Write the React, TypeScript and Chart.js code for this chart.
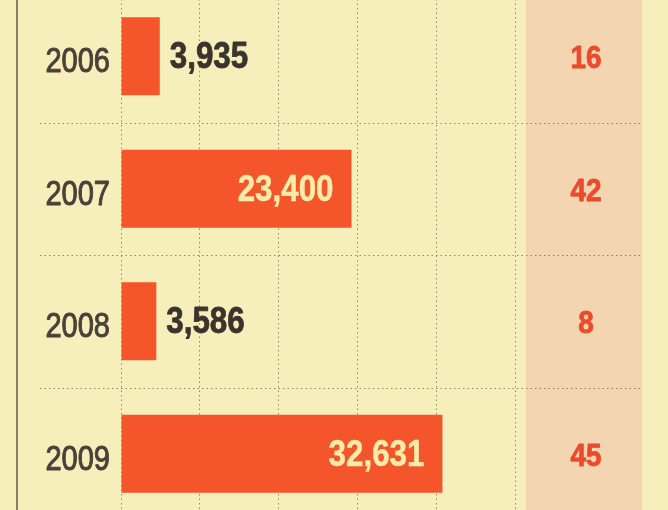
import React, { useEffect, useRef } from "react";
import { Chart, registerables } from "chart.js";

Chart.register(...registerables);

// ---- data ----
const years = ["2006", "2007", "2008", "2009"];
const amounts = [3935, 23400, 3586, 32631];
const counts = [16, 42, 8, 45];
const xMax = 40000;
const xStep = 8000;

// ---- styles ----
const BG = "#f6efbb";
const BAND = "#f3d5b2";
const BAR = "#f4552b";
const YEAR_COLOR = "#4a4139";
const DARK_LABEL = "#3a332e";
const LIGHT_LABEL = "#f8eca8";
const COUNT_COLOR = "#ec4a2b";
const GRID = "rgba(85,72,55,0.6)";
const FONT = "'Liberation Sans', Arial, sans-serif";

const fmt = (v: number) => v.toLocaleString("en-US");

function drawText(
  ctx: CanvasRenderingContext2D,
  text: string,
  x: number,
  y: number,
  font: string,
  color: string,
  align: CanvasTextAlign,
  sx: number,
  stroke = 0
) {
  ctx.save();
  ctx.translate(x, y);
  ctx.scale(sx, 1);
  ctx.font = font;
  ctx.fillStyle = color;
  ctx.textAlign = align;
  ctx.textBaseline = "alphabetic";
  ctx.fillText(text, 0, 0);
  if (stroke > 0) {
    ctx.strokeStyle = color;
    ctx.lineWidth = stroke;
    ctx.lineJoin = "round";
    ctx.strokeText(text, 0, 0);
  }
  ctx.restore();
}

const decor = {
  id: "decor",
  beforeDraw(chart: any) {
    const { ctx, chartArea, width, height } = chart;
    ctx.save();
    ctx.fillStyle = BG;
    ctx.fillRect(0, 0, width, height);
    const bandL = chartArea.right + 11;
    const bandR = chartArea.right + 127;
    ctx.fillStyle = BAND;
    ctx.fillRect(bandL, 0, bandR - bandL, height);
    // solid left rule
    ctx.strokeStyle = "#6a5946";
    ctx.lineWidth = 1.5;
    ctx.beginPath();
    ctx.moveTo(17, 0);
    ctx.lineTo(17, height);
    ctx.stroke();
    // horizontal dotted separators between categories
    const ys = chart.scales.y;
    ctx.strokeStyle = GRID;
    ctx.lineWidth = 1;
    ctx.setLineDash([1.5, 3]);
    for (let i = 0; i < years.length - 1; i++) {
      const yy = Math.round((ys.getPixelForTick(i) + ys.getPixelForTick(i + 1)) / 2) + 0.5;
      ctx.beginPath();
      ctx.moveTo(40, yy);
      ctx.lineTo(bandR, yy);
      ctx.stroke();
    }
    ctx.restore();
  },
  afterDatasetsDraw(chart: any) {
    const { ctx, chartArea } = chart;
    const ys = chart.scales.y;
    const meta = chart.getDatasetMeta(0);
    const bandL = chartArea.right + 11;
    const bandR = chartArea.right + 127;
    // year labels (category axis labels at the y scale's tick positions)
    years.forEach((yr, i) => {
      const py = ys.getPixelForTick(i);
      drawText(ctx, yr, chartArea.left - 11, py + 16, `35px ${FONT}`, YEAR_COLOR, "right", 0.83, 1);
    });
    meta.data.forEach((el: any, i: number) => {
      const v = amounts[i];
      const vf = `bold 36px ${FONT}`;
      if (v < 10000) {
        drawText(ctx, fmt(v), el.x + 10, el.y + 12, vf, DARK_LABEL, "left", 0.87, 0.8);
      } else {
        drawText(ctx, fmt(v), el.x - 18, el.y + 12, vf, LIGHT_LABEL, "right", 0.87, 0.5);
      }
      drawText(
        ctx,
        String(counts[i]),
        (bandL + bandR) / 2 + 2,
        el.y + 12,
        `bold 31px ${FONT}`,
        COUNT_COLOR,
        "center",
        0.9,
        0.8
      );
    });
  },
};

export default function App() {
  const ref = useRef<HTMLCanvasElement>(null);
  useEffect(() => {
    if (!ref.current) return;
    const chart = new Chart(ref.current, {
      type: "bar",
      data: {
        labels: years,
        datasets: [
          {
            data: amounts,
            backgroundColor: BAR,
            borderWidth: 0,
            barPercentage: 0.59,
            categoryPercentage: 1,
          },
        ],
      },
      options: {
        indexAxis: "y",
        animation: false,
        responsive: false,
        devicePixelRatio: 1,
        layout: { padding: { left: 0, right: 153, top: 0, bottom: 0 } },
        plugins: { legend: { display: false }, tooltip: { enabled: false } },
        scales: {
          x: {
            min: 0,
            max: xMax,
            ticks: { stepSize: xStep, display: false },
            grid: { color: GRID, drawTicks: false, lineWidth: 1 },
            border: { display: false, dash: [1.5, 3] },
            afterFit(scale: any) {
              scale.height = 0;
              scale.paddingLeft = 0;
              scale.paddingRight = 0;
            },
          },
          y: {
            grid: { display: false, drawTicks: false },
            border: { display: false },
            ticks: { display: false },
            afterFit(scale: any) {
              scale.width = 121;
              scale.paddingTop = 0;
              scale.paddingBottom = 0;
            },
          },
        },
      },
      plugins: [decor],
    });
    return () => chart.destroy();
  }, []);
  return (
    <div style={{ position: "fixed", inset: 0, background: BG, overflow: "hidden" }}>
      <canvas
        ref={ref}
        width={668}
        height={530}
        style={{ position: "absolute", left: 0, top: -10, width: 668, height: 530 }}
      />
    </div>
  );
}
